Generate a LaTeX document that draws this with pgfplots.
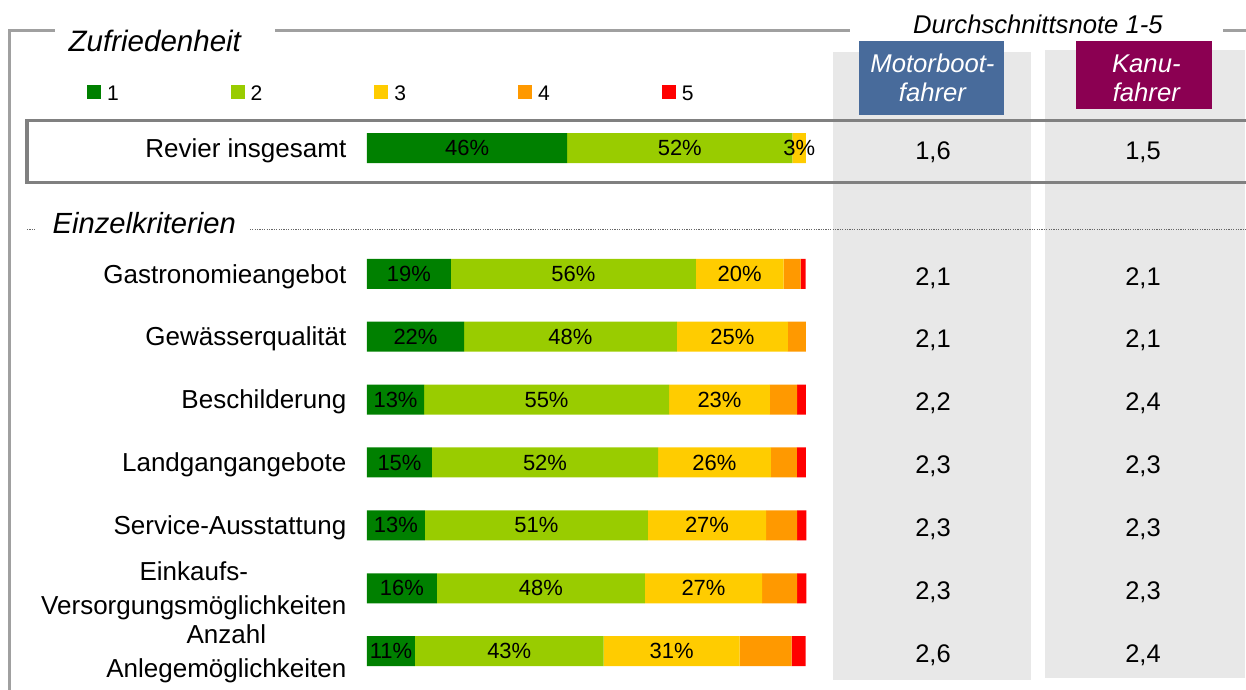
\documentclass[border=0pt]{standalone}
\usepackage{pgfplots}
\pgfplotsset{compat=1.18}
\usepackage{fontspec}
\setmainfont{Liberation Sans}
\definecolor{cA}{HTML}{008000}
\definecolor{cB}{HTML}{99CC00}
\definecolor{cC}{HTML}{FFCC00}
\definecolor{cD}{HTML}{FF9900}
\definecolor{cE}{HTML}{FF0000}
\definecolor{colgrey}{HTML}{E8E8E8}
\definecolor{mblue}{HTML}{486B9B}
\definecolor{kpurple}{HTML}{8B0052}
\definecolor{framegrey}{HTML}{A0A0A0}
\definecolor{boxgrey}{HTML}{808080}
\begin{document}
\begin{tikzpicture}
% background decorations in pixel units
\begin{scope}[x=0.01cm,y=-0.01cm]
\fill[colgrey] (833,52) rectangle (1032,680);
\fill[colgrey] (1046,50) rectangle (1246,678);
\fill[mblue] (859,41) rectangle (1005,115);
\fill[kpurple] (1077,41) rectangle (1213,109);
\node[text=white,font=\fontsize{7.3}{8.3}\selectfont\itshape,align=center] at (933,78) {Motorboot-\\fahrer};
\node[text=white,font=\fontsize{7.3}{8.3}\selectfont\itshape,align=center] at (1147,78) {Kanu-\\fahrer};
\draw[framegrey,line width=0.03cm] (55,30.5) -- (10,30.5) -- (10,695);
\draw[framegrey,line width=0.03cm] (275,30.5) -- (850,30.5);
\draw[framegrey,line width=0.03cm] (1224,30.5) -- (1256,30.5);
\node[anchor=base west,font=\fontsize{8.4}{10}\selectfont\itshape,inner sep=0pt] at (68,52) {Zufriedenheit};
\node[anchor=base,font=\fontsize{7.3}{8.5}\selectfont\itshape,inner sep=0pt] at (1038.5,34) {Durchschnittsnote 1-5};
\draw[boxgrey,line width=0.035cm] (27,120.5) rectangle (1270,182.5);
\node[anchor=base west,font=\fontsize{8.3}{10}\selectfont\itshape,inner sep=0pt] at (52,234) {Einzelkriterien};
\draw[black!60,line width=0.01cm,dash pattern=on 0.012cm off 0.012cm] (27,230) -- (35,230);
\draw[black!60,line width=0.01cm,dash pattern=on 0.012cm off 0.012cm] (250,230) -- (1246,230);
\end{scope}

\begin{axis}[
  at={(3.67cm,-1.1655cm)}, anchor=north west,
  scale only axis, width=4.39cm, height=5.661cm,
  xmin=0, xmax=100, ymin=-0.5, ymax=8.5, y dir=reverse,
  xbar stacked, bar width=0.30cm,
  clip=false,
  axis line style={draw=none}, tick style={draw=none},
  xtick=\empty,
  ytick={0,2,3,4,5,6,7,8},
  yticklabels={Revier insgesamt,Gastronomieangebot,Gewässerqualität,Beschilderung,Landgangangebote,Service-Ausstattung,{Einkaufs-\\Versorgungsmöglichkeiten},{Anzahl\\Anlegemöglichkeiten}},
  yticklabel style={anchor=east,align=center,inner sep=0pt,xshift=-0.2cm,yshift=-0.025cm,font=\fontsize{7.4}{9.7}\selectfont},
  every node near coord/.append style={font=\fontsize{6.25}{7}\selectfont,black},
  legend columns=5,
  legend image code/.code={\fill[#1] (0cm,-0.035cm) rectangle (0.14cm,0.105cm);},
  legend style={draw=none,fill=none,inner sep=0pt,outer sep=0pt,
    at={(axis cs:-63.78,-0.84)},anchor=west,
    font=\fontsize{6}{6.8}\selectfont,
    nodes={inner sep=0pt},
    /tikz/every odd column/.style={column sep=0.06cm},
    /tikz/every even column/.style={column sep=1.12cm}},
]
\addplot[fill=cA,draw=none,nodes near coords,point meta=explicit symbolic] coordinates {
 (45.6,0) [46\%] (19.1,2) [19\%] (22.1,3) [22\%] (13.0,4) [13\%] (14.8,5) [15\%] (13.2,6) [13\%] (15.9,7) [16\%] (10.9,8) [11\%]};
\addplot[fill=cB,draw=none,nodes near coords,point meta=explicit symbolic] coordinates {
 (51.3,0) [52\%] (55.8,2) [56\%] (48.5,3) [48\%] (55.8,4) [55\%] (51.5,5) [52\%] (50.8,6) [51\%] (47.4,7) [48\%] (43.0,8) [43\%]};
\addplot[fill=cC,draw=none,nodes near coords,point meta=explicit symbolic] coordinates {
 (3.1,0) [3\%] (20.0,2) [20\%] (25.3,3) [25\%] (23.0,4) [23\%] (25.7,5) [26\%] (26.9,6) [27\%] (26.7,7) [27\%] (31.0,8) [31\%]};
\addplot[fill=cD,draw=none] coordinates {
 (0,0) (3.9,2) (4.1,3) (6.2,4) (5.9,5) (7.1,6) (8.0,7) (11.8,8)};
\addplot[fill=cE,draw=none] coordinates {
 (0,0) (1.1,2) (0,3) (2.0,4) (2.1,5) (2.1,6) (2.1,7) (3.2,8)};
\legend{1,2,3,4,5}
\end{axis}

\begin{axis}[
  at={(8.33cm,-1.1655cm)}, anchor=north west,
  scale only axis, width=4.13cm, height=5.661cm,
  xmin=0.5238, xmax=2.4905, ymin=-0.5, ymax=8.5, y dir=reverse,
  hide axis, clip=false,
]
\addplot[draw=none,nodes near coords,point meta=explicit symbolic,
  every node near coord/.style={anchor=center,yshift=-0.04cm,font=\fontsize{7.25}{8}\selectfont}] coordinates {
 (1,0) [1,6] (1,2) [2,1] (1,3) [2,1] (1,4) [2,2] (1,5) [2,3] (1,6) [2,3] (1,7) [2,3] (1,8) [2,6]};
\addplot[draw=none,nodes near coords,point meta=explicit symbolic,
  every node near coord/.style={anchor=center,yshift=-0.04cm,font=\fontsize{7.25}{8}\selectfont}] coordinates {
 (2,0) [1,5] (2,2) [2,1] (2,3) [2,1] (2,4) [2,4] (2,5) [2,3] (2,6) [2,3] (2,7) [2,3] (2,8) [2,4]};
\end{axis}

\pgfresetboundingbox
\path[use as bounding box] (0,0) rectangle (12.46cm,-6.89cm);
\end{tikzpicture}
\end{document}
